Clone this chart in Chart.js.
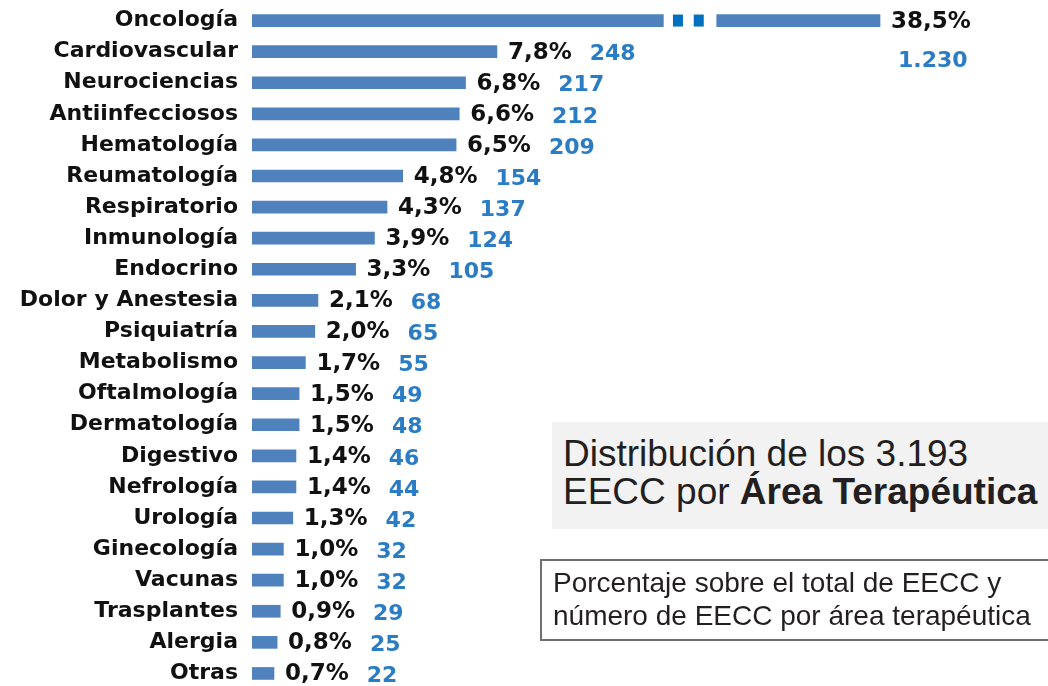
<!DOCTYPE html>
<html lang="es">
<head>
<meta charset="utf-8">
<script src="https://cdn.jsdelivr.net/npm/chart.js@4.4.1/dist/chart.umd.min.js"></script>
<style>
  html, body { margin: 0; padding: 0; background: #fff; overflow: hidden; }
  #wrap { position: absolute; left: 0; top: 0; width: 1048px; height: 690px; }
  .box1 {
    position: absolute; left: 552px; top: 422px; width: 485px; height: 94px;
    padding: 13px 0 0 11px; background: #f2f2f2; color: #231f20;
    font-family: "Liberation Sans", Arial, sans-serif; font-size: 37px; line-height: 38px;
    white-space: nowrap;
  }
  .box1 b { font-weight: bold; }
  .box2 {
    position: absolute; left: 540px; top: 559px; width: 520px; height: 73px;
    padding: 5px 0 0 11px; border: 2px solid #707070; border-right: none;
    color: #231f20; font-family: "Liberation Sans", Arial, sans-serif;
    font-size: 28px; line-height: 33px; white-space: nowrap;
  }
</style>
</head>
<body>
<div id="wrap"><canvas id="chart"></canvas></div>
<div class="box1">Distribución de los 3.193<br>EECC por <b>Área Terapéutica</b></div>
<div class="box2">Porcentaje sobre el total de EECC y<br>número de EECC por área terapéutica</div>
<script>
var CATEGORIES = ['Oncología', 'Cardiovascular', 'Neurociencias', 'Antiinfecciosos', 'Hematología',
  'Reumatología', 'Respiratorio', 'Inmunología', 'Endocrino', 'Dolor y Anestesia', 'Psiquiatría',
  'Metabolismo', 'Oftalmología', 'Dermatología', 'Digestivo', 'Nefrología', 'Urología',
  'Ginecología', 'Vacunas', 'Trasplantes', 'Alergia', 'Otras'];
var PERCENTS = [38.5, 7.8, 6.8, 6.6, 6.5, 4.8, 4.3, 3.9, 3.3, 2.1, 2.0, 1.7, 1.5, 1.5, 1.4, 1.4, 1.3, 1.0, 1.0, 0.9, 0.8, 0.7];
var COUNTS = [1230, 248, 217, 212, 209, 154, 137, 124, 105, 68, 65, 55, 49, 48, 46, 44, 42, 32, 32, 29, 25, 22];

// axis break for bars that don't fit (only Oncología)
var BREAK_FROM = 13.1, BREAK_TO = 14.8, AXIS_CAP = 20;

var BAR_COLOR = '#4f81bd';
var DOT_COLOR = '#0070c0';
var PCT_COLOR = '#111111';
var COUNT_COLOR = '#2a7cc4';

function fmtPct(v) { return v.toFixed(1).replace('.', ',') + '%'; }
function fmtCount(v) { return String(v).replace(/\B(?=(\d{3})+(?!\d))/g, '.'); }

var headData = PERCENTS.map(function(v) { return v > AXIS_CAP ? [0, BREAK_FROM] : v; });
var tailData = PERCENTS.map(function(v) { return v > AXIS_CAP ? [BREAK_TO, AXIS_CAP] : null; });

var labelPlugin = {
  id: 'barLabels',
  afterDatasetsDraw: function(chart) {
    var ctx = chart.ctx;
    var xs = chart.scales.x;
    var head = chart.getDatasetMeta(0).data;
    var tail = chart.getDatasetMeta(1).data;
    ctx.save();
    ctx.textBaseline = 'middle';
    ctx.textAlign = 'left';
    PERCENTS.forEach(function(v, i) {
      var broken = v > AXIS_CAP;
      var bar = broken ? tail[i] : head[i];
      var x = bar.x + 11, y = bar.y + 1;
      ctx.font = 'bold 23px "DejaVu Sans"';
      ctx.fillStyle = PCT_COLOR;
      var pct = fmtPct(v);
      ctx.fillText(pct, x, y);
      var w = ctx.measureText(pct).width;
      ctx.font = 'bold 22px "DejaVu Sans"';
      ctx.fillStyle = COUNT_COLOR;
      if (broken) {
        ctx.fillText(fmtCount(COUNTS[i]), x + 7, y + 40);
        // dotted squares across the break
        var x0 = xs.getPixelForValue(BREAK_FROM), x1 = xs.getPixelForValue(BREAK_TO);
        var gap = x1 - x0;
        ctx.fillStyle = DOT_COLOR;
        ctx.fillRect(x0 + gap * 0.18, bar.y - 6, 10, 12);
        ctx.fillRect(x0 + gap * 0.57, bar.y - 6, 10, 12);
      } else {
        ctx.fillText(fmtCount(COUNTS[i]), x + w + 18, y + 2);
      }
    });
    ctx.restore();
  }
};

new Chart(document.getElementById('chart'), {
  type: 'bar',
  data: {
    labels: CATEGORIES,
    datasets: [
      { data: headData, backgroundColor: BAR_COLOR, barThickness: 12, grouped: false, borderWidth: 0 },
      { data: tailData, backgroundColor: BAR_COLOR, barThickness: 12, grouped: false, borderWidth: 0 }
    ]
  },
  plugins: [labelPlugin],
  options: {
    indexAxis: 'y',
    responsive: true,
    maintainAspectRatio: false,
    animation: false,
    layout: { padding: { top: 5, bottom: 1, left: 0, right: 11 } },
    plugins: { legend: { display: false }, tooltip: { enabled: false } },
    scales: {
      x: { display: false, min: 0, max: 25 },
      y: {
        grid: { display: false, drawTicks: false },
        border: { display: false },
        ticks: {
          padding: 14,
          color: '#111111',
          font: { family: '"DejaVu Sans"', weight: 'bold', size: 22 }
        },
        afterFit: function(axis) {
          axis.width = 252;
          axis.paddingTop = 0;
          axis.paddingBottom = 0;
        }
      }
    }
  }
});
</script>
</body>
</html>
